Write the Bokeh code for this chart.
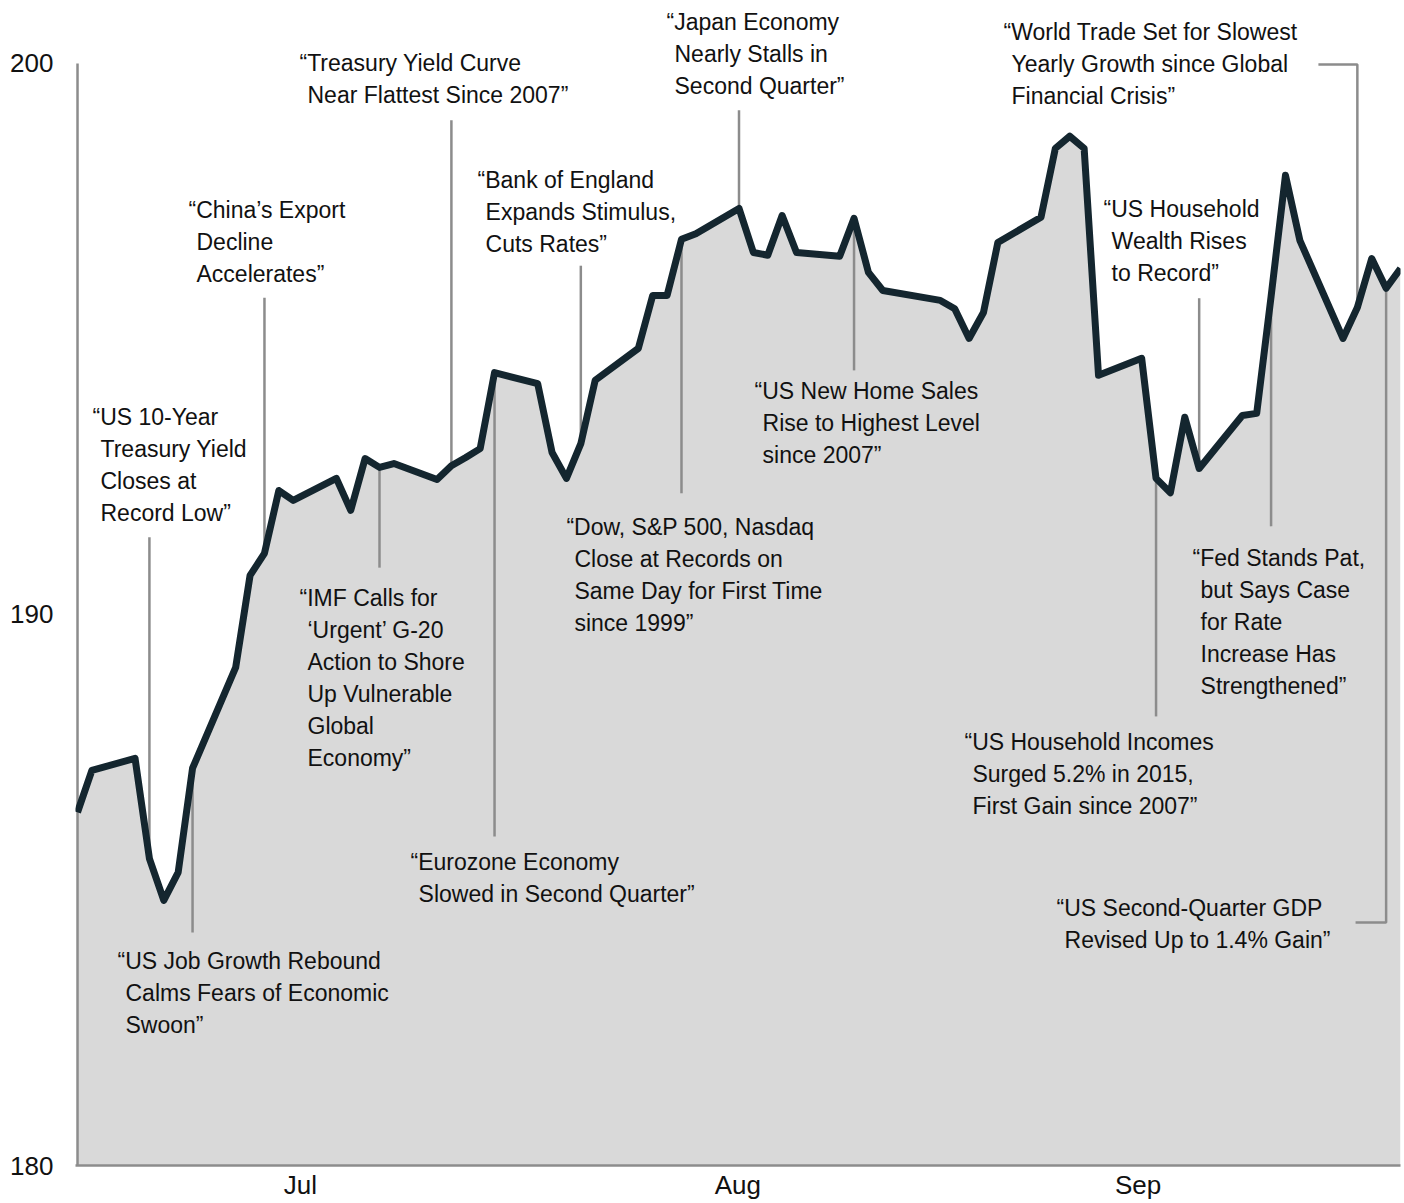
import numpy as np
import pandas as pd
from bokeh.plotting import figure
from bokeh.models import (ColumnDataSource, LabelSet, Range1d, FixedTicker,
                          DatetimeTickFormatter)
from bokeh.core.properties import value
from bokeh.embed import file_html
from bokeh.resources import INLINE

# ---------------- data ----------------
dates = ["2016-06-30", "2016-07-01", "2016-07-04", "2016-07-05", "2016-07-06",
         "2016-07-07", "2016-07-08", "2016-07-11", "2016-07-12", "2016-07-13",
         "2016-07-14", "2016-07-15", "2016-07-18", "2016-07-19", "2016-07-20",
         "2016-07-21", "2016-07-22", "2016-07-25", "2016-07-26", "2016-07-27",
         "2016-07-28", "2016-07-29", "2016-08-01", "2016-08-02", "2016-08-03",
         "2016-08-04", "2016-08-05", "2016-08-08", "2016-08-09", "2016-08-10",
         "2016-08-11", "2016-08-12", "2016-08-15", "2016-08-16", "2016-08-17",
         "2016-08-18", "2016-08-19", "2016-08-22", "2016-08-23", "2016-08-24",
         "2016-08-25", "2016-08-29", "2016-08-30", "2016-08-31", "2016-09-01",
         "2016-09-02", "2016-09-05", "2016-09-06", "2016-09-07", "2016-09-08",
         "2016-09-09", "2016-09-12", "2016-09-13", "2016-09-14", "2016-09-15",
         "2016-09-16", "2016-09-19", "2016-09-20", "2016-09-21", "2016-09-22",
         "2016-09-23", "2016-09-26", "2016-09-27", "2016-09-28", "2016-09-29",
         "2016-09-30"]
values = [186.41, 187.17, 187.39, 185.57, 184.81,
          185.32, 187.21, 189.04, 190.71, 191.11,
          192.25, 192.07, 192.47, 191.89, 192.83,
          192.67, 192.74, 192.45, 192.70, 192.85,
          193.01, 194.39, 194.19, 192.94, 192.47,
          193.10, 194.25, 194.83, 195.79, 195.79,
          196.81, 196.91, 197.37, 196.57, 196.52,
          197.24, 196.57, 196.50, 197.19, 196.21,
          195.88, 195.70, 195.55, 195.01, 195.48,
          196.75, 197.21, 198.46, 198.68, 198.46,
          194.34, 194.65, 192.47, 192.21, 193.58,
          192.65, 193.61, 193.65, 195.77, 197.97,
          196.79, 195.01, 195.57, 196.46, 195.92,
          196.28]

y_ticks = [180, 190, 200]
month_ticks = ["2016-07-15 12:00", "2016-08-14 22:00", "2016-09-11 18:00"]

# headlines: event date, text lines
event_dates = ["2016-07-05", "2016-07-08", "2016-07-13", "2016-07-26", "2016-07-21",
               "2016-07-29", "2016-08-04", "2016-08-15", "2016-08-11", "2016-08-23",
               "2016-09-27", "2016-09-16", "2016-09-13", "2016-09-21", "2016-09-29"]
event_texts = [
    ["\u201cUS 10-Year", "Treasury Yield", "Closes at", "Record Low\u201d"],
    ["\u201cUS Job Growth Rebound", "Calms Fears of Economic", "Swoon\u201d"],
    ["\u201cChina\u2019s Export", "Decline", "Accelerates\u201d"],
    ["\u201cTreasury Yield Curve", "Near Flattest Since 2007\u201d"],
    ["\u201cIMF Calls for", "\u2018Urgent\u2019 G-20", "Action to Shore", "Up Vulnerable",
     "Global", "Economy\u201d"],
    ["\u201cEurozone Economy", "Slowed in Second Quarter\u201d"],
    ["\u201cBank of England", "Expands Stimulus,", "Cuts Rates\u201d"],
    ["\u201cJapan Economy", "Nearly Stalls in", "Second Quarter\u201d"],
    ["\u201cDow, S&P 500, Nasdaq", "Close at Records on", "Same Day for First Time",
     "since 1999\u201d"],
    ["\u201cUS New Home Sales", "Rise to Highest Level", "since 2007\u201d"],
    ["\u201cWorld Trade Set for Slowest", "Yearly Growth since Global", "Financial Crisis\u201d"],
    ["\u201cUS Household", "Wealth Rises", "to Record\u201d"],
    ["\u201cUS Household Incomes", "Surged 5.2% in 2015,", "First Gain since 2007\u201d"],
    ["\u201cFed Stands Pat,", "but Says Case", "for Rate", "Increase Has", "Strengthened\u201d"],
    ["\u201cUS Second-Quarter GDP", "Revised Up to 1.4% Gain\u201d"],
]

# ---------------- layout of the annotations ----------------
text_x = ["2016-07-01 01:00", "2016-07-02 18:45", "2016-07-07 17:15", "2016-07-15 10:30",
          "2016-07-15 10:30", "2016-07-23 03:50", "2016-07-27 19:40", "2016-08-09 23:00",
          "2016-08-03 00:00", "2016-08-16 02:00", "2016-09-02 09:30", "2016-09-09 08:30",
          "2016-08-30 16:20", "2016-09-15 13:00", "2016-09-06 02:00"]
text_y = [193.43, 183.57, 197.20, 199.86, 190.15, 185.36, 197.74, 200.61,
          191.44, 193.91, 200.42, 197.21, 187.54, 190.88, 184.53]
leader_end = [191.40, 184.23, 195.75, 198.97, 190.85, 185.97, 196.33, 199.15,
              192.20, 194.43, 199.98, 195.74, 188.15, 191.60, 184.41]
leader_elbow_x = [None] * 10 + ["2016-09-24 07:00", None, None, None, "2016-09-26 21:00"]

LINE_STEP = 32        # px between text lines
INDENT = 8            # px indent of continuation lines
FONT = "Liberation Sans"
GREY = "#8c8c8c"
Y_TOP = 201.143       # frame reaches the top of the canvas so headlines are not clipped
X_PAD_DAYS = 0.14     # small room left of the first date for the axis line

d = pd.to_datetime(dates)
src = ColumnDataSource(dict(date=d, value=values))

y0, y1 = y_ticks[0], y_ticks[-1]
p = figure(width=1404, height=1203, x_axis_type="datetime",
           x_range=Range1d(d[0] - pd.Timedelta(days=X_PAD_DAYS), d[-1]),
           y_range=Range1d(y0, Y_TOP),
           output_backend="svg", toolbar_location=None,
           min_border_left=75, min_border_right=4, min_border_top=0,
           min_border_bottom=38)
p.outline_line_color = None
p.xgrid.grid_line_color = None
p.ygrid.grid_line_color = None
p.background_fill_color = "white"

# area
p.varea(x="date", y1=y0, y2="value", source=src, fill_color="#d9d9d9")

# leader lines
xs, ys = [], []
num_d = d.values.astype("datetime64[ms]").astype(np.int64)
for ed, le, ex in zip(event_dates, leader_end, leader_elbow_x):
    t = pd.Timestamp(ed)
    tv = np.interp(t.value // 10**6, num_d, values)
    px = [t, t]
    py = [tv, le]
    if ex is not None:
        px.append(pd.Timestamp(ex))
        py.append(le)
    xs.append(px)
    ys.append(py)
p.multi_line(xs=xs, ys=ys, line_color=GREY, line_width=2.5)

# left axis line (only over the value range)
p.segment(x0=[d[0]], y0=[y0], x1=[d[0]], y1=[y1], line_color=GREY, line_width=2.5)

# series line
p.line(x="date", y="value", source=src, line_color="#14262f", line_width=7,
       line_join="round")

# text annotations
lx, ly, lt, lxo, lyo = [], [], [], [], []
for tx, ty, lines in zip(text_x, text_y, event_texts):
    for k, s in enumerate(lines):
        lx.append(pd.Timestamp(tx))
        ly.append(ty)
        lt.append(s)
        lxo.append(0 if k == 0 else INDENT)
        lyo.append(-LINE_STEP * k)
lab_src = ColumnDataSource(dict(x=lx, y=ly, text=lt, xo=lxo, yo=lyo))
labels = LabelSet(x="x", y="y", text="text", x_offset="xo", y_offset="yo",
                  source=lab_src, text_font=value(FONT), text_font_size="23px",
                  text_color="#111111", text_align="left",
                  text_baseline="alphabetic")
p.add_layout(labels)

# axes
p.yaxis.ticker = FixedTicker(ticks=y_ticks)
p.xaxis.ticker = FixedTicker(ticks=[pd.Timestamp(m).value // 10**6 for m in month_ticks])
p.xaxis.formatter = DatetimeTickFormatter(
    microseconds="%b", milliseconds="%b", seconds="%b", minsec="%b", minutes="%b",
    hourmin="%b", hours="%b", days="%b", months="%b", years="%b")
for ax in (p.xaxis[0], p.yaxis[0]):
    ax.axis_line_color = GREY
    ax.axis_line_width = 2.5
    ax.major_tick_line_color = None
    ax.minor_tick_line_color = None
    ax.major_tick_in = 0
    ax.major_tick_out = 0
    ax.minor_tick_in = 0
    ax.minor_tick_out = 0
    ax.major_label_text_font = FONT
    ax.major_label_text_font_size = "26px"
    ax.major_label_text_color = "#111111"
p.yaxis.axis_line_color = None
p.yaxis.major_label_standoff = 22
p.xaxis.major_label_standoff = 4

open("out.html", "w").write(file_html(p, INLINE))
